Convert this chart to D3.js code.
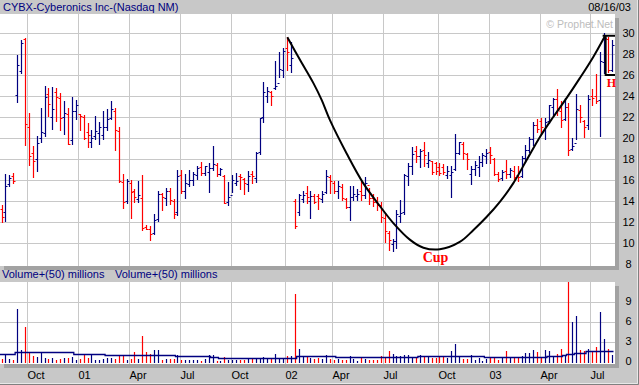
<!DOCTYPE html>
<html>
<head>
<meta charset="utf-8">
<script src="https://cdn.jsdelivr.net/npm/d3@7"></script>
<style>
	body { margin: 0; background: #c8c8c8; }
	svg { display: block; font-family: Arial, "Liberation Sans", sans-serif; }
</style>
</head>
<body>
<div id="chart"></div>
<script>
/*
 * Weekly bar chart of CYBX with a cup and handle drawn on it.
 */

/* First weekly bar, one bar per week after it */
var firstWeek = new Date(2000, 7, 14);

/* Weekly prices */
var highs = [13.6,16.6,16.5,16.7,27.9,29.3,29.5,22.4,19.2,20.2,
	22.9,25.0,24.8,24.9,24.8,24.3,23.5,22.9,23.9,23.6,
	22.3,22.2,21.4,20.8,22.1,21.5,22.6,22.8,23.5,22.9,
	21.0,16.6,16.1,16.0,15.1,15.9,16.5,11.7,11.6,12.8,
	15.0,14.8,15.2,15.2,14.2,16.95,16.95,16.6,16.95,16.8,
	17.3,17.7,17.3,17.6,19.2,17.6,17.1,16.5,15.8,16.5,
	16.7,16.6,16.2,16.9,16.9,18.7,21.9,25.3,24.9,24.5,
	27.3,28.2,28.6,29.6,29.1,14.2,14.7,15.0,15.4,14.95,
	14.7,14.7,15.0,16.95,16.5,15.9,15.9,15.6,14.3,15.4,
	15.4,15.1,15.9,16.3,15.2,14.7,14.4,13.9,12.9,11.1,
	10.4,13.1,14.1,16.6,17.6,19.1,19.2,19.0,19.6,18.7,
	17.8,17.7,17.6,17.5,17.3,17.3,20.4,19.6,19.6,18.6,
	17.3,17.8,18.3,18.6,19.0,19.1,18.1,16.8,16.95,17.9,
	17.1,17.3,17.3,18.3,19.3,20.1,21.55,21.8,21.9,21.9,
	23.1,23.8,24.7,23.5,23.8,23.3,20.0,24.2,23.1,21.7,
	24.1,24.7,26.1,28.2,30.0,29.6,29.3];

var lows = [12.0,12.1,15.4,15.7,23.4,26.2,19.3,17.4,16.3,16.9,
	19.6,20.2,22.1,20.9,21.6,20.8,20.4,19.4,19.4,21.8,
	20.8,19.9,19.1,19.1,19.9,19.4,19.9,20.8,21.8,18.9,
	15.8,13.3,13.8,12.4,13.9,13.9,11.2,11.3,10.3,10.9,
	12.1,13.1,13.6,13.7,12.4,12.7,14.8,14.3,15.4,15.5,
	16.1,16.5,16.5,14.9,16.95,16.4,16.5,13.8,13.6,14.9,
	15.5,15.1,14.7,15.0,15.7,15.8,18.5,21.5,23.4,23.1,
	24.7,25.8,25.8,26.5,26.3,11.4,12.7,13.9,13.8,12.4,
	13.8,13.2,13.9,14.8,14.8,14.8,14.3,14.1,13.3,12.2,
	14.1,14.1,14.1,14.3,13.7,13.5,13.1,12.0,10.1,9.3,
	9.2,9.5,12.0,12.8,15.5,16.6,17.7,17.2,17.3,17.2,
	16.6,16.6,16.5,16.6,16.2,14.4,16.95,18.5,18.0,17.0,
	15.6,16.5,16.4,17.3,17.6,17.6,16.5,15.9,16.0,16.2,
	16.3,16.1,15.9,16.3,17.7,18.7,19.3,20.6,20.4,19.9,
	21.4,22.2,22.2,21.0,21.7,18.4,18.9,19.9,21.5,20.1,
	20.9,23.1,23.3,20.2,26.2,26.3,26.4];

var opens = [13.2,13.0,15.6,16.4,24.1,26.4,29.4,21.0,18.6,18.0,
	20.0,20.5,24.2,22.0,24.4,23.8,22.0,22.3,19.8,22.6,
	22.3,22.0,20.6,19.6,20.2,20.5,20.3,21.0,21.9,22.6,
	20.7,15.8,14.0,15.7,15.0,14.2,14.3,11.5,11.3,11.0,
	12.3,14.7,14.3,15.0,14.0,13.0,16.5,15.0,15.6,16.0,
	16.5,17.2,16.7,16.8,17.1,17.4,16.6,16.4,13.9,14.6,
	15.7,16.4,16.1,15.6,16.6,16.2,18.7,22.0,24.0,24.4,
	24.8,25.2,26.5,28.6,27.0,14.0,13.0,14.2,14.8,14.0,
	14.5,14.5,14.2,14.9,16.3,15.7,15.0,15.3,14.2,13.4,
	14.4,14.5,15.0,14.6,15.5,14.3,13.9,13.6,12.4,11.0,
	9.9,10.2,12.6,13.0,16.4,17.3,18.8,18.3,18.9,17.6,
	17.8,17.6,17.2,17.2,16.5,16.5,17.0,18.6,19.4,18.5,
	16.6,17.0,17.2,17.7,18.3,18.7,18.0,16.6,16.2,16.9,
	16.6,16.9,16.5,16.4,18.1,18.9,19.9,21.2,21.6,20.8,
	21.6,23.0,23.7,22.6,21.8,23.0,19.0,19.5,22.7,21.6,
	21.2,24.0,24.0,23.6,27.2,29.4,26.5];

var closes = [12.5,15.4,16.2,15.9,27.0,29.0,21.3,18.3,17.8,19.5,
	20.6,23.9,23.2,22.8,23.9,21.9,22.4,19.4,22.6,23.1,
	22.1,20.0,20.3,20.0,20.7,21.0,21.0,21.8,22.8,20.8,
	15.9,13.9,15.9,14.9,14.4,14.6,11.4,11.3,10.9,12.2,
	14.7,14.4,15.0,14.1,12.8,16.4,15.0,15.7,16.0,16.6,
	17.1,16.7,17.3,17.1,17.5,16.6,17.0,13.8,14.4,16.0,
	15.9,16.3,15.7,16.4,16.4,18.6,21.9,24.4,24.5,24.0,
	25.0,26.6,28.3,28.2,27.6,11.6,14.6,14.6,14.4,14.5,
	13.9,14.3,14.7,16.4,15.9,15.0,15.4,14.3,13.4,14.4,
	14.7,14.7,14.6,15.7,14.3,13.9,13.6,12.5,11.1,10.3,
	10.2,12.8,12.9,16.5,17.3,18.5,18.3,18.8,18.4,17.9,
	16.8,16.9,16.7,16.8,16.9,16.8,18.6,19.6,18.6,18.0,
	17.0,17.4,17.7,18.4,18.6,18.4,16.6,16.1,16.8,16.6,
	16.95,16.3,16.3,18.1,18.9,19.9,21.2,20.9,21.0,21.55,
	23.1,23.7,22.7,21.7,23.0,18.9,19.2,22.8,22.0,21.0,
	23.7,23.8,23.5,27.3,29.5,26.5,28.9];

/* Weekly volume, millions */
var volumes = [0.5,1.0,0.45,0.25,8.0,1.85,5.2,1.35,0.95,0.7,
	1.55,0.6,0.45,0.55,0.3,0.45,0.65,0.65,0.7,0.35,
	0.5,1.1,0.65,1.0,0.25,0.25,0.5,0.65,0.65,0.5,
	1.0,1.0,0.35,0.45,1.45,0.5,3.85,1.45,1.25,1.75,
	1.75,0.35,0.45,0.5,0.45,1.0,0.25,0.35,0.35,0.25,
	0.25,0.2,0.45,1.0,1.0,0.2,0.1,0.7,0.35,0.25,
	0.25,0.25,0.25,0.45,0.55,0.55,0.55,0.75,0.55,0.45,
	1.25,0.55,0.55,0.9,0.9,10.2,2.0,0.75,0.75,0.55,
	0.45,0.55,0.45,1.1,0.45,0.35,0.45,0.35,0.35,0.95,
	0.45,0.2,0.7,0.45,0.35,0.35,0.35,0.95,0.55,1.7,
	1.25,0.95,0.95,1.0,1.1,0.75,0.75,1.1,0.95,0.75,
	0.55,0.55,0.75,0.75,0.55,1.7,2.75,0.95,0.45,0.45,
	1.1,0.35,0.55,0.2,0.45,0.55,0.75,0.35,0.55,1.7,
	0.55,0.55,0.75,0.95,1.35,1.35,1.85,1.45,0.55,1.85,
	1.7,0.75,1.25,1.9,1.1,12.5,5.95,6.95,1.85,1.7,
	2.0,1.45,2.25,7.45,3.5,2.0,1.1];

/* 50 period volume average, as steps: first week of each level */
var volAvgStart = [1,5,20,28,46,55,57,71,77,87,108,125,141,145,146,148,151,154];
var volAvgLevel = [1.25,1.45,1.2,1.05,0.95,0.75,0.6,0.65,0.95,0.75,0.95,0.75,0.95,1.1,1.25,1.4,1.6,1.7];

/* Axis ticks */
var priceTicks = [10,12,14,16,18,20,22,24,26,28,30];
var priceLabels = [8,10,12,14,16,18,20,22,24,26,28,30];
var volumeTicks = [3,6,9];
var volumeLabels = [0,3,6,9];
var quarterMonths = [new Date(2000,9,1), new Date(2001,0,1), new Date(2001,3,1), new Date(2001,6,1),
	new Date(2001,9,1), new Date(2002,0,1), new Date(2002,3,1), new Date(2002,6,1),
	new Date(2002,9,1), new Date(2003,0,1), new Date(2003,3,1), new Date(2003,6,1)];
var quarterLabels = ["Oct","01","Apr","Jul","Oct","02","Apr","Jul","Oct","03","Apr","Jul"];

/* Cup curve, as (week number, price) */
var cupWeeks = [74.1,77.4,80.8,82.9,85.0,89.3,93.5,97.8,101.2,105.5,108.9,113.1,118.2,121.7,
	125.1,128.5,131.9,135.3,138.7,142.1,145.5,148.9,152.3,155.3];
var cupPrices = [29.6,27.4,25.2,23.6,21.7,18.5,15.7,13.5,11.9,10.3,9.55,9.4,10.1,11.24,
	12.5,13.95,15.7,17.9,20.1,22.0,23.8,25.7,27.7,29.7];

/* Handle bracket: week span and price span */
var handleWeeks = [155.5, 158.3];
var handlePrices = [29.75, 26.0];

/* Panel layout */
var width = 639, height = 385;
var plotRight = 615;
var priceTop = 14, priceBottom = 266;
var volTop = 282, volBottom = 364;

var navy = "#000080", red = "#ff0000", grid = "#c8c8c8";

/* Date of a (possibly fractional) week number, 1 = first bar */
function weekDate(w) {
	return new Date(+firstWeek + (w - 1) * 7 * 864e5);
}

var weeks = d3.range(closes.length).map(function(i) { return d3.timeWeek.offset(firstWeek, i); });

var x = d3.scaleTime()
	.domain([weeks[0], weeks[weeks.length - 1]])
	.range([1.5, 611.5]);

var y = d3.scaleLinear()
	.domain([8, 30])
	.range([264, 33]);

var vy = d3.scaleLinear()
	.domain([0, 9])
	.range([362, 302]);

function px(d) { return Math.round(x(d)) + 0.5; }
function crisp(v) { return Math.round(v) + 0.5; }

var svg = d3.select("#chart")
	.append("svg")
	.attr("width", width)
	.attr("height", height);

/* Gray background */
svg.append("rect")
	.attr("width", width)
	.attr("height", height)
	.attr("fill", "#c8c8c8");

/* Outer bevel */
svg.append("path")
	.attr("d", "M637.5,0V383.5H0")
	.attr("fill", "none")
	.attr("stroke", "#e8e8e8");
svg.append("path")
	.attr("d", "M638.5,0V384.5H0")
	.attr("fill", "none")
	.attr("stroke", "#808080");

/* Draw a white panel with a drop shadow */
function drawPanel(top, bottom, id) {
	svg.append("rect")
		.attr("x", 4)
		.attr("y", top + 4)
		.attr("width", plotRight)
		.attr("height", bottom - top)
		.attr("fill", "#a2a2a2");
	svg.append("rect")
		.attr("x", 0)
		.attr("y", top)
		.attr("width", plotRight)
		.attr("height", bottom - top)
		.attr("fill", "#ffffff");
	svg.append("clipPath")
		.attr("id", id)
		.append("rect")
		.attr("x", 0)
		.attr("y", top)
		.attr("width", plotRight)
		.attr("height", bottom - top);
}

drawPanel(priceTop, priceBottom, "clipPrice");
drawPanel(volTop, volBottom, "clipVol");

/* Quarter gridlines sit just left of the first bar of the month */
var quarterX = quarterMonths.map(function(m) {
	return crisp(x(d3.timeMonday.ceil(m)) - 1.5);
});

[[priceTop, priceBottom], [volTop, volBottom]].forEach(function(p) {
	svg.append("g")
		.selectAll("line")
		.data(quarterX)
		.join("line")
		.attr("x1", function(d) { return d; })
		.attr("x2", function(d) { return d; })
		.attr("y1", p[0])
		.attr("y2", p[1])
		.attr("stroke", grid);
});

svg.append("g")
	.selectAll("line")
	.data(priceTicks)
	.join("line")
	.attr("x1", 0)
	.attr("x2", plotRight)
	.attr("y1", function(d) { return crisp(y(d)); })
	.attr("y2", function(d) { return crisp(y(d)); })
	.attr("stroke", grid);

svg.append("g")
	.selectAll("line")
	.data(volumeTicks)
	.join("line")
	.attr("x1", 0)
	.attr("x2", plotRight)
	.attr("y1", function(d) { return crisp(vy(d)); })
	.attr("y2", function(d) { return crisp(vy(d)); })
	.attr("stroke", grid);

/* Price bars */
var bars = svg.append("g")
	.attr("clip-path", "url(#clipPrice)")
	.selectAll("path")
	.data(weeks)
	.join("path")
	.attr("d", function(d, i) {
		var bx = px(d);
		var yo = crisp(y(opens[i])), yc = crisp(y(closes[i]));
		return "M" + bx + "," + Math.round(y(highs[i])) + "V" + (Math.round(y(lows[i])) + 1) +
			"M" + (bx - 2) + "," + yo + "H" + bx +
			"M" + bx + "," + yc + "H" + (bx + 2);
	})
	.attr("fill", "none")
	.attr("stroke", function(d, i) { return closes[i] < opens[i] ? red : navy; })
	.attr("stroke-width", 1.2);

/* Volume bars */
svg.append("g")
	.attr("clip-path", "url(#clipVol)")
	.selectAll("line")
	.data(weeks)
	.join("line")
	.attr("x1", function(d) { return px(d); })
	.attr("x2", function(d) { return px(d); })
	.attr("y1", vy(0) + 1)
	.attr("y2", function(d, i) { return Math.round(vy(volumes[i])); })
	.attr("stroke", function(d, i) { return closes[i] < opens[i] ? red : navy; })
	.attr("stroke-width", 1.2);

/* Volume average line */
var avgPoints = volAvgStart.map(function(w, i) {
	return [x(weekDate(w)) - 2, volAvgLevel[i]];
});
avgPoints.push([x(weeks[weeks.length - 1]) + 2, volAvgLevel[volAvgLevel.length - 1]]);

svg.append("path")
	.datum(avgPoints)
	.attr("d", d3.line()
		.x(function(d) { return d[0]; })
		.y(function(d) { return crisp(vy(d[1])); })
		.curve(d3.curveStepAfter))
	.attr("fill", "none")
	.attr("stroke", navy)
	.attr("stroke-width", 1.3);

/* Cup curve */
svg.append("path")
	.datum(cupWeeks.map(function(w, i) { return [weekDate(w), cupPrices[i]]; }))
	.attr("d", d3.line()
		.x(function(d) { return x(d[0]); })
		.y(function(d) { return y(d[1]); })
		.curve(d3.curveCatmullRom))
	.attr("fill", "none")
	.attr("stroke", "#000")
	.attr("stroke-width", 2);

/* Handle bracket */
var hx0 = x(weekDate(handleWeeks[0])), hx1 = Math.min(plotRight, x(weekDate(handleWeeks[1])));
svg.append("path")
	.attr("d", "M" + (hx0 - 3) + "," + y(handlePrices[0]) + "H" + hx1 +
		"M" + hx0 + "," + y(handlePrices[0]) + "V" + y(handlePrices[1]) + "H" + hx1)
	.attr("fill", "none")
	.attr("stroke", "#000")
	.attr("stroke-width", 2);

/* Cup and handle labels */
svg.append("text")
	.attr("x", x(weekDate(112)))
	.attr("y", y(8.2))
	.attr("text-anchor", "middle")
	.attr("font-family", "'Liberation Serif', 'Times New Roman', serif")
	.attr("font-weight", "bold")
	.attr("font-size", 14)
	.attr("fill", red)
	.text("Cup");

svg.append("text")
	.attr("x", hx0 + 1)
	.attr("y", y(24.85))
	.attr("font-family", "'Liberation Serif', 'Times New Roman', serif")
	.attr("font-weight", "bold")
	.attr("font-size", 12)
	.attr("fill", red)
	.text("H");

/* Header texts */
svg.append("text")
	.attr("x", 3)
	.attr("y", 11)
	.attr("font-size", 11)
	.attr("fill", navy)
	.text("CYBX-Cyberonics Inc-(Nasdaq NM)");

svg.append("text")
	.attr("x", 631)
	.attr("y", 11)
	.attr("text-anchor", "end")
	.attr("font-size", 11)
	.attr("fill", "#000")
	.text("08/16/03");

svg.append("text")
	.attr("x", 613)
	.attr("y", 28)
	.attr("text-anchor", "end")
	.attr("font-size", 10.5)
	.attr("fill", "#bdbdbd")
	.text("\u00a9 Prophet.Net");

svg.append("text")
	.attr("x", 2)
	.attr("y", 278)
	.attr("font-size", 11)
	.attr("fill", navy)
	.text("Volume+(50) millions");

svg.append("text")
	.attr("x", 115)
	.attr("y", 278)
	.attr("font-size", 11)
	.attr("fill", navy)
	.text("Volume+(50) millions");

/* Right axis labels */
svg.append("g")
	.selectAll("text")
	.data(priceLabels)
	.join("text")
	.attr("x", 628.5)
	.attr("y", function(d) { return y(d) + 4; })
	.attr("text-anchor", "middle")
	.attr("font-size", 11)
	.attr("fill", "#000")
	.text(function(d) { return d; });

svg.append("g")
	.selectAll("text")
	.data(volumeLabels)
	.join("text")
	.attr("x", 628.5)
	.attr("y", function(d) { return vy(d) + 3; })
	.attr("text-anchor", "middle")
	.attr("font-size", 11)
	.attr("fill", "#000")
	.text(function(d) { return d; });

/* Quarter labels under the volume panel */
svg.append("g")
	.selectAll("text")
	.data(quarterLabels)
	.join("text")
	.attr("x", function(d, i) { return quarterX[i]; })
	.attr("y", 379)
	.attr("font-size", 11)
	.attr("fill", "#000")
	.text(function(d) { return d; });
</script>
</body>
</html>
